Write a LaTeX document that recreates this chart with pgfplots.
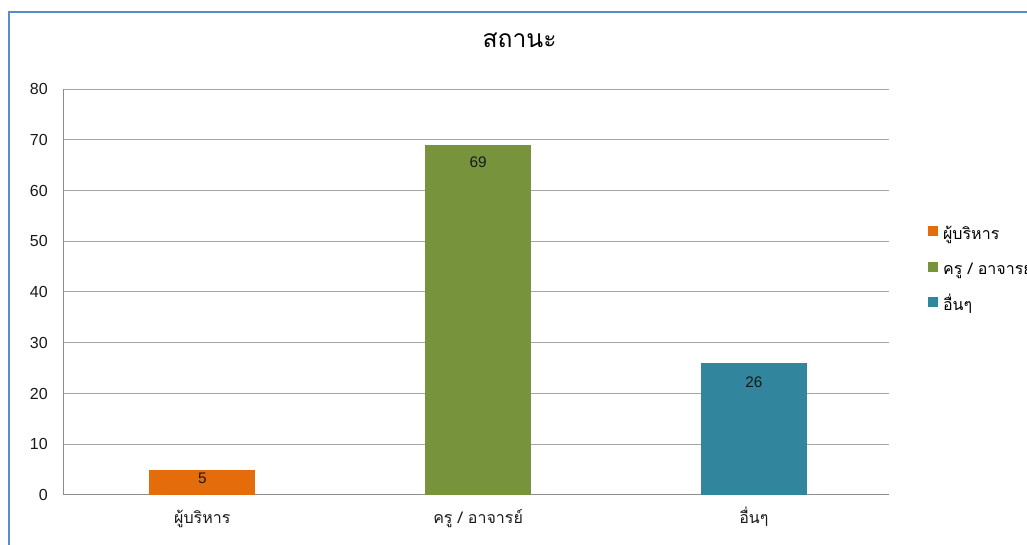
\documentclass[border=0pt]{standalone}
\usepackage{pgfplots}
\pgfplotsset{compat=1.18}
\usepackage{fontspec}
\setmainfont{Liberation Sans}
\newfontfamily\thai[Script=Thai]{Loma}
\definecolor{cOrange}{HTML}{E46C0A}
\definecolor{cGreen}{HTML}{77933C}
\definecolor{cTeal}{HTML}{31859C}
\definecolor{cFrame}{HTML}{5B8BC9}
\definecolor{cGrid}{HTML}{A6A6A6}
\definecolor{cAxis}{HTML}{8C8C8C}
\begin{document}
\begin{tikzpicture}
\path[use as bounding box] (0,0) rectangle (770.25pt,408.75pt);
\clip (0,0) rectangle (770.25pt,408.75pt);
\draw[cFrame, line width=1.5pt] (7.1pt,399.4pt) -- (830pt,399.4pt) -- (830pt,-30pt) -- (7.1pt,-30pt) -- cycle;
\begin{axis}[
  /pgf/number format/assume math mode=true,
  at={(47.25pt,37.5pt)}, anchor=south west,
  scale only axis, width=619.5pt, height=304.5pt,
  xmin=-0.505, xmax=2.49, ymin=0, ymax=80,
  ytick={0,10,...,80},
  xtick={0,1,2},
  xticklabels={{\thai ผู้บริหาร},{\thai ครู / อาจารย์},{\thai อื่นๆ}},
  axis x line*=bottom, axis y line*=left,
  axis line style={cAxis, line width=0.75pt},
  major tick length=0pt,
  ymajorgrids, grid style={cGrid, line width=0.75pt},
  tick label style={font=\fontsize{12pt}{14pt}\selectfont, text=black!90},
  yticklabel style={anchor=east, inner sep=0pt, xshift=-11.25pt},
  xticklabel style={anchor=base, inner sep=0pt, yshift=-21.75pt},
  ybar, bar width=79.5pt, bar shift=0pt,
  nodes near coords,
  nodes near coords style={anchor=north, inner sep=0pt, yshift=-9pt, font=\fontsize{11.5pt}{13pt}\selectfont, text=black!90},
  title={\thai สถานะ},
  title style={at={(0.5527,1)}, anchor=base, yshift=25pt, inner sep=0pt, font=\fontsize{18.5pt}{20pt}\selectfont},
  legend style={at={(1.047,0.554)}, anchor=west, draw=none, fill=none, inner sep=0pt,
    font=\fontsize{12pt}{14pt}\selectfont,
    nodes={inner sep=0pt, text height=9pt, text depth=3pt},
    row sep=13.9pt,
    /tikz/every odd column/.append style={column sep=3.75pt}},
  legend cell align=left,
  legend image code/.code={\fill[#1,draw=none] (0pt,-0.75pt) rectangle (7.5pt,6.75pt);},
]
\addplot[fill=cOrange, draw=none, every node near coord/.append style={yshift=6.5pt}] coordinates {(0,5)};
\addplot[fill=cGreen, draw=none] coordinates {(1,69)};
\addplot[fill=cTeal, draw=none, every node near coord/.append style={yshift=-1pt}] coordinates {(2,26)};
\legend{{\thai ผู้บริหาร},{\thai ครู / อาจารย์},{\thai อื่นๆ}}
\end{axis}
\end{tikzpicture}
\end{document}
